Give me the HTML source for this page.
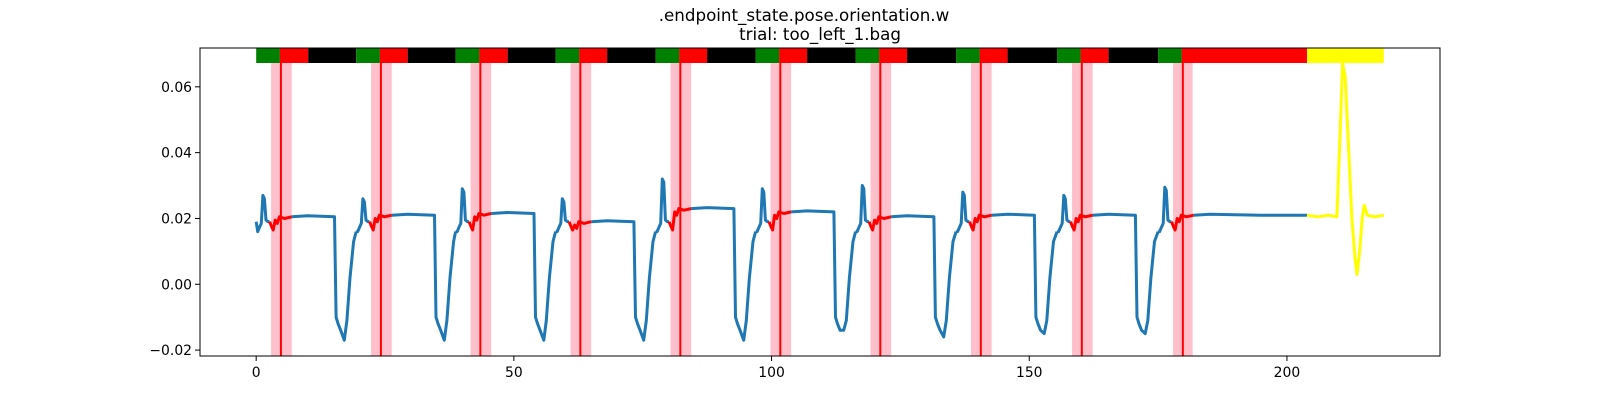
<!DOCTYPE html>
<html><head><meta charset="utf-8">
<style>
html,body{margin:0;padding:0;background:#fff;}
svg text{font-family:"DejaVu Sans","Liberation Sans",sans-serif;fill:#000;}
</style></head>
<body>
<svg id="chart" width="1600" height="400" viewBox="0 0 1600 400" xmlns="http://www.w3.org/2000/svg">
<rect width="1600" height="400" fill="#fff"/>
<text x="804" y="21" font-size="16.7" text-anchor="middle">.endpoint_state.pose.orientation.w</text>
<text x="820" y="40" font-size="16.7" text-anchor="middle">trial: too_left_1.bag</text>
<g id="plot"></g>
</svg>
<script>
// ---- data ----
const cycleStarts = [0, 19.4, 38.7, 58.1, 77.5, 96.9, 116.3, 135.8, 155.4, 175.0];
const spikePeaks  = [0.027, 0.026, 0.029, 0.026, 0.032, 0.029, 0.030, 0.028, 0.027, 0.0295];
const dipMins     = [-0.017, -0.017, -0.017, -0.017, -0.017, -0.014, -0.016, -0.015, -0.015, null];
const plateaus    = [0.0205, 0.021, 0.0215, 0.019, 0.023, 0.022, 0.0205, 0.021, 0.021, 0.021];
const redEnds     = [10.1, 29.4, 48.8, 68.1, 87.5, 106.9, 126.3, 145.8, 165.4, 203.9];
const yellowStart = 203.9;
const yellowEnd   = 218.8;
const yellowX = [203.9, 206, 208, 209.7, 210.3, 210.8, 211.3, 212.0, 212.6, 213.2, 213.6, 214.1, 214.6, 215.0, 215.6, 217, 218.8];
const yellowY = [0.021, 0.0205, 0.021, 0.0205, 0.045, 0.067, 0.063, 0.040, 0.020, 0.008, 0.003, 0.010, 0.020, 0.024, 0.021, 0.0205, 0.021];
const xTicks = [0, 50, 100, 150, 200];
const yTicks = [-0.02, 0.00, 0.02, 0.04, 0.06];
const yTickLabels = ["\u22120.02", "0.00", "0.02", "0.04", "0.06"];

// ---- axes ----
const L = 200, R = 1440, T = 48, B = 356;
const xMin = -10.9, xMax = 229.7, yMin = -0.0218, yMax = 0.0718;
const sx = v => L + (v - xMin) / (xMax - xMin) * (R - L);
const sy = v => B - (v - yMin) / (yMax - yMin) * (B - T);
const NS = "http://www.w3.org/2000/svg";
const g = document.getElementById('plot');
function mk(tag, attrs, parent) {
  const e = document.createElementNS(NS, tag);
  for (const k in attrs) e.setAttribute(k, attrs[k]);
  (parent || g).appendChild(e);
  return e;
}

// pink bands and red lines
cycleStarts.forEach((s, i) => {
  const last = i === cycleStarts.length - 1;
  const a = s + 2.9, b = s + (last ? 6.7 : 6.9), m = s + 4.8;
  const band = mk('rect', {x: sx(a), y: T, width: sx(b) - sx(a), height: B - T, fill: '#ffc0cb'});
  
  
  const ln = mk('line', {x1: sx(m), x2: sx(m), y1: T, y2: B, stroke: '#ff0000', 'stroke-width': 2});
  
  
});

// signal
function path(pts, color, name) {
  const d = pts.map((p, i) => (i ? 'L' : 'M') + sx(p[0]).toFixed(1) + ',' + sy(p[1]).toFixed(1)).join('');
  const e = mk('path', {d: d, fill: 'none', stroke: color, 'stroke-width': 3, 'stroke-linejoin': 'round'});
  
  
}
cycleStarts.forEach((s, i) => {
  const pk = spikePeaks[i], pl = plateaus[i];
  const blueA = [[s, i ? 0.016 : 0.019], [s + 0.3, 0.016], [s + 0.7, 0.0175], [s + 1.0, 0.0185], [s + 1.3, pk], [s + 1.6, pk - 0.001], [s + 1.9, 0.0195], [s + 2.3, 0.019], [s + 2.6, 0.019]];
  path(blueA, '#1f77b4', 'signal-line');
  path([[s + 2.6, 0.019], [s + 3.0, 0.0175], [s + 3.3, 0.0165], [s + 3.7, pl - 0.001], [s + 4.1, pl - 0.002], [s + 4.5, pl], [s + 5.5, pl - 0.0005], [s + 6.9, pl]], '#ff0000', 'signal-red-segment');
  if (dipMins[i] !== null) {
    const n = cycleStarts[i + 1];
    path([[s + 6.9, pl], [s + 10, pl + 0.0003], [s + 15.2, pl], [s + 15.5, -0.010], [s + 15.9, -0.012], [s + 16.4, -0.014], [s + 17.1, dipMins[i]], [s + 17.6, -0.011], [s + 18.2, 0.002], [s + 18.9, 0.013], [n, 0.016]], '#1f77b4', 'signal-line');
  } else {
    path([[s + 6.9, pl], [185, pl + 0.0003], [195, pl], [yellowStart, pl]], '#1f77b4', 'signal-line');
  }
});
path(yellowX.map((x, i) => [x, yellowY[i]]), '#ffff00', 'signal-yellow-segment');

// status bars
const barY = T, barH = 15;
function bar(a, b, color, name) {
  const e = mk('rect', {x: sx(a), y: barY, width: sx(b) - sx(a), height: barH, fill: color});
  
  
}
cycleStarts.forEach((s, i) => {
  bar(s, s + 4.6, '#008000', 'status-green');
  bar(s + 4.6, redEnds[i], '#ff0000', 'status-red');
  if (i < cycleStarts.length - 1) bar(redEnds[i], cycleStarts[i + 1], '#000000', 'status-black');
});
bar(yellowStart, yellowEnd, '#ffff00', 'status-yellow');

// frame
const fr = mk('rect', {x: L, y: T, width: R - L, height: B - T, fill: 'none', stroke: '#000', 'stroke-width': 1});



// ticks
xTicks.forEach(v => {
  const t = mk('line', {x1: sx(v), x2: sx(v), y1: B, y2: B + 5, stroke: '#000'});
  
  
  const tx = mk('text', {x: sx(v), y: B + 21, 'font-size': 13.9, 'text-anchor': 'middle'});
  tx.textContent = String(v);
  
  
});
yTicks.forEach((v, i) => {
  const t = mk('line', {x1: L - 5, x2: L, y1: sy(v), y2: sy(v), stroke: '#000'});
  
  
  const tx = mk('text', {x: L - 8, y: sy(v) + 5, 'font-size': 13.9, 'text-anchor': 'end'});
  tx.textContent = yTickLabels[i];
  
  
});
</script>
</body></html>
